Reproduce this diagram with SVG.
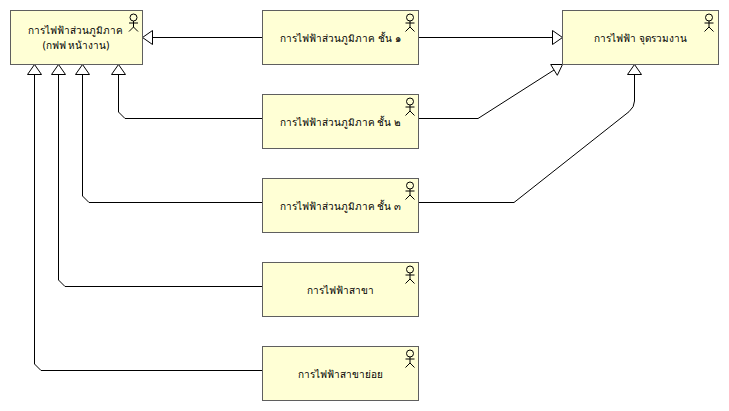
<svg xmlns="http://www.w3.org/2000/svg" xmlns:xlink="http://www.w3.org/1999/xlink" width="729" height="411" viewBox="0 0 729 411">
<style>
.box{fill:#ffffd5;stroke:#5f5f5f;stroke-width:1}
.lbl{font-family:"Noto Sans","DejaVu Sans","Liberation Sans",sans-serif;font-size:10px;fill:#000;text-anchor:middle}
.act{fill:none;stroke:#000;stroke-width:1}
.con{fill:none;stroke:#000;stroke-width:1}
.tip{fill:#fff;stroke:#000;stroke-width:1}
</style>
<defs>
<g id="actor">
<circle cx="0" cy="17.5" r="3.5" class="act"/>
<path d="M0 21V27M-4.5 23H4.5M-4.5 31.5L0 27L4.5 31.5" class="act"/>
</g>
</defs>
<rect width="729" height="411" fill="#fff"/>
<g id="connectors">
<path class="con" d="M262.5 37.5H152.5"/>
<path class="tip" d="M142.5 37.5L152.5 30.5V44.5Z"/>
<path class="con" d="M262.5 118.5H125L118.5 112V74.5"/>
<path class="tip" d="M118.5 64.5L111.5 74.5H125.5Z"/>
<path class="con" d="M262.5 202.5H89L82.5 196V74.5"/>
<path class="tip" d="M82.5 64.5L75.5 74.5H89.5Z"/>
<path class="con" d="M262.5 286.5H65L58.5 280V74.5"/>
<path class="tip" d="M58.5 64.5L51.5 74.5H65.5Z"/>
<path class="con" d="M262.5 370.5H41L34.5 364V74.5"/>
<path class="tip" d="M34.5 64.5L27.5 74.5H41.5Z"/>
<path class="con" d="M418.5 37.5H552.5"/>
<path class="tip" d="M562.5 37.5L552.5 30.5V44.5Z"/>
<path class="con" d="M418.5 118.5H478L554 70"/>
<path class="tip" d="M562.5 64.5L550.7 64.5L557.3 75.3Z"/>
<path class="con" d="M418.5 202.5H514L629 111.7Q634.5 107 634.5 101V74.5"/>
<path class="tip" d="M634.5 64.5L627.5 74.5H641.5Z"/>
</g>
<g id="node-pea-region">
<rect class="box" x="10.5" y="10.5" width="132" height="54"/>
<use xlink:href="#actor" href="#actor" x="133.5" y="0"/>
<text class="lbl" x="75" y="33.5">การไฟฟ้าส่วนภูมิภาค</text>
<text class="lbl" x="76" y="49">(กฟฟ หน้างาน)</text>
</g>
<g id="node-region-1">
<rect class="box" x="262.5" y="10.5" width="156" height="54"/>
<use xlink:href="#actor" href="#actor" x="410" y="0"/>
<text class="lbl" x="340.5" y="41.5">การไฟฟ้าส่วนภูมิภาค ชั้น ๑</text>
</g>
<g id="node-region-2">
<rect class="box" x="262.5" y="94.5" width="156" height="54"/>
<use xlink:href="#actor" href="#actor" x="410" y="84"/>
<text class="lbl" x="340.5" y="125.5">การไฟฟ้าส่วนภูมิภาค ชั้น ๒</text>
</g>
<g id="node-region-3">
<rect class="box" x="262.5" y="178.5" width="156" height="54"/>
<use xlink:href="#actor" href="#actor" x="410" y="168"/>
<text class="lbl" x="340.5" y="209.5">การไฟฟ้าส่วนภูมิภาค ชั้น ๓</text>
</g>
<g id="node-branch">
<rect class="box" x="262.5" y="262.5" width="156" height="54"/>
<use xlink:href="#actor" href="#actor" x="410" y="252"/>
<text class="lbl" x="340" y="293.5">การไฟฟ้าสาขา</text>
</g>
<g id="node-subbranch">
<rect class="box" x="262.5" y="346.5" width="156" height="54"/>
<use xlink:href="#actor" href="#actor" x="410" y="336"/>
<text class="lbl" x="340" y="377.5">การไฟฟ้าสาขาย่อย</text>
</g>
<g id="node-junction">
<rect class="box" x="562.5" y="10.5" width="156" height="54"/>
<use xlink:href="#actor" href="#actor" x="709" y="0"/>
<text class="lbl" x="640.5" y="41.5">การไฟฟ้า จุดรวมงาน</text>
</g>
</svg>
